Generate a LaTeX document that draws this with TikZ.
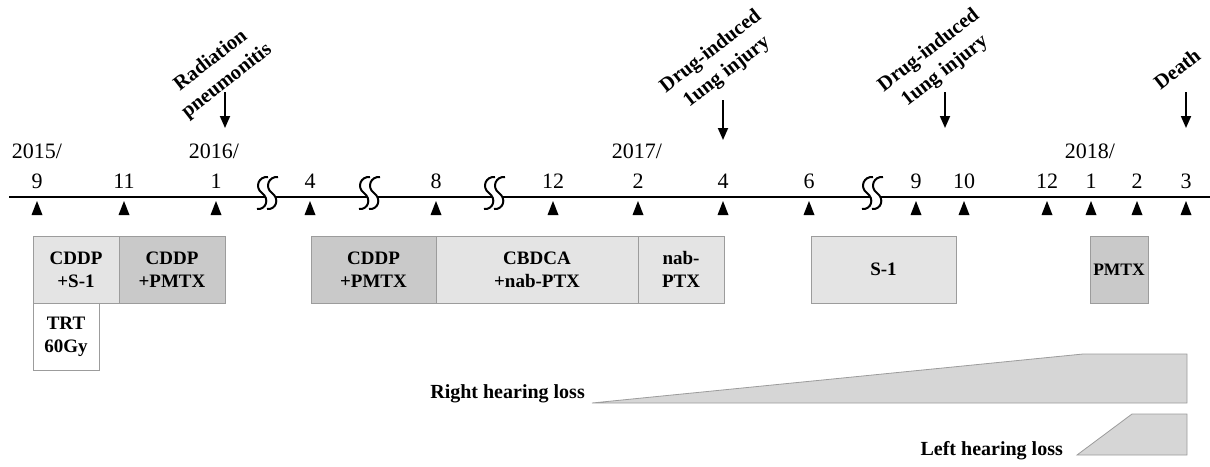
\documentclass[tikz,border=0pt]{standalone}
\usepackage{fontspec}
\setmainfont{Liberation Serif}
\usetikzlibrary{arrows.meta}
\definecolor{lightfill}{HTML}{E4E4E4}
\definecolor{darkfill}{HTML}{C9C9C9}
\definecolor{hearfill}{HTML}{D6D6D6}
\definecolor{boxline}{HTML}{9C9C9C}
\begin{document}
\begin{tikzpicture}[x=1pt,y=-1pt,
  axis/.style={line width=2pt},
  mlabel/.style={font=\fontsize{22}{24}\selectfont, anchor=base, inner sep=0pt},
  event/.style={font=\bfseries\fontsize{20.5}{26}\selectfont, rotate=38, align=center, inner sep=0pt},
  evarrow/.style={line width=1.8pt, -{Triangle[length=12pt,width=10pt]}},
  brk/.style={line width=2pt},
  box/.style={draw=boxline, line width=0.8pt, anchor=north west, inner sep=0pt, outer sep=0pt,
    font=\bfseries\fontsize{19}{23}\selectfont, align=center, minimum height=67pt},
  hear/.style={fill=hearfill, draw=boxline, line width=0.8pt, line join=miter},
  hlabel/.style={font=\bfseries\fontsize{20}{24}\selectfont, anchor=base east, inner sep=0pt}]
\useasboundingbox (0,0) rectangle (1210,466);

% time axis
\coordinate (axL) at (9,197);
\coordinate (axR) at (1210,197);
\draw[axis] (axL) -- (axR);

% month ticks and labels
\foreach \x/\t [count=\i] in {37/9,124/11,216/1,310/4,436/8,553/12,638/2,723/4,
    809/6,916/9,964/10,1047/12,1091/1,1137/2,1186/3} {
  \node[mlabel] (m\i) at (\x,188) {\t};
  \fill (\x,201) -- ++(5.5,14) -- ++(-11,0) -- cycle;
}

% year labels
\node[mlabel] (y2015) at (37,158) {2015/};
\node[mlabel] (y2016) at (214,158) {2016/};
\node[mlabel] (y2017) at (637,158) {2017/};
\node[mlabel] (y2018) at (1090,158) {2018/};

% axis breaks: two parallel S strokes with a white gap between them
\foreach \cx in {262,364,489,867} {
  \fill[white] (\cx+6,177) .. controls (\cx-3,176) and (\cx-8,187) .. (\cx,193)
    .. controls (\cx+8,199) and (\cx+4,210) .. (\cx-5,209)
    -- (\cx+5,209) .. controls (\cx+14,210) and (\cx+18,199) .. (\cx+10,193)
    .. controls (\cx+2,187) and (\cx+7,176) .. (\cx+16,177) -- cycle;
  \foreach \dx in {0,10} {
    \draw[brk] (\cx+\dx+6,177) .. controls (\cx+\dx-3,176) and (\cx+\dx-8,187) .. (\cx+\dx,193)
      .. controls (\cx+\dx+8,199) and (\cx+\dx+4,210) .. (\cx+\dx-5,209);
  }
}

% events
\node[event] (rad) at (219,71) {Radiation\\pneumonitis};
\coordinate (radA) at (225,92);
\coordinate (radB) at (225,128);
\draw[evarrow] (radA) -- (radB);

\node[event] (dli1) at (719,62) {Drug-induced\\1ung injury};
\coordinate (dli1A) at (723,100);
\coordinate (dli1B) at (723,140);
\draw[evarrow] (dli1A) -- (dli1B);

\node[event] (dli2) at (937,61) {Drug-induced\\1ung injury};
\coordinate (dli2A) at (945,92);
\coordinate (dli2B) at (945,128);
\draw[evarrow] (dli2A) -- (dli2B);

\node[event] (death) at (1177,69) {Death};
\coordinate (deathA) at (1186,92);
\coordinate (deathB) at (1186,128);
\draw[evarrow] (deathA) -- (deathB);

% treatment boxes
\node[box, fill=lightfill, minimum width=86pt] (cs1) at (33,236) {CDDP\\+S-1};
\node[box, fill=darkfill, minimum width=106pt] (cp1) at (119,236) {CDDP\\+PMTX};
\node[box, fill=white, minimum width=66pt] (trt) at (33,303) {TRT\\60Gy};
\node[box, fill=darkfill, minimum width=125pt] (cp2) at (311,236) {CDDP\\+PMTX};
\node[box, fill=lightfill, minimum width=202pt] (cbd) at (436,236) {CBDCA\\+nab-PTX};
\node[box, fill=lightfill, minimum width=86pt] (nab) at (638,236) {nab-\\PTX};
\node[box, fill=lightfill, minimum width=145pt] (s1) at (811,236) {S-1};
\node[box, fill=darkfill, minimum width=58pt, font=\bfseries\fontsize{17.5}{21}\selectfont] (pm) at (1090,236) {PMTX};

% hearing loss
\draw[hear] (592,403) -- (1083,354) -- (1187,354) -- (1187,403) -- cycle;
\node[hlabel] (rhl) at (585,398) {Right hearing loss};
\draw[hear] (1077,455) -- (1132,414) -- (1187,414) -- (1187,455) -- cycle;
\node[hlabel] (lhl) at (1063,455) {Left hearing loss};
\end{tikzpicture}
\end{document}
